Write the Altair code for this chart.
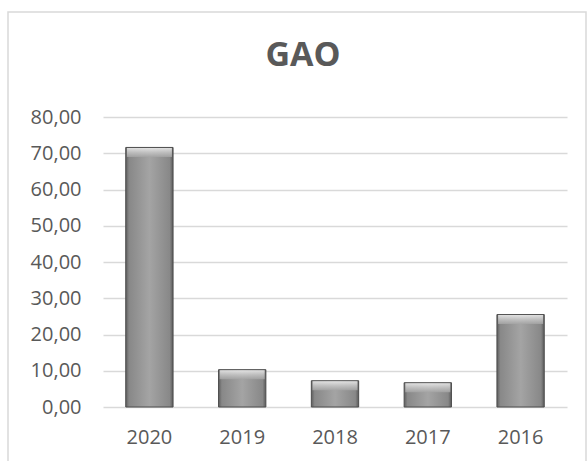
import altair as alt
import pandas as pd

years = ["2020", "2019", "2018", "2017", "2016"]
values = [71.6, 10.3, 7.25, 6.7, 25.5]
y_ticks = [0, 10, 20, 30, 40, 50, 60, 70, 80]

df = pd.DataFrame({"year": years, "value": values})

W, H = 464, 290
FONT = "Open Sans"
TXT = "#595959"

side = alt.Gradient(
    gradient="linear", x1=0, x2=1, y1=0, y2=0,
    stops=[
        alt.GradientStop(offset=0, color="#5e5e5e"),
        alt.GradientStop(offset=0.07, color="#888888"),
        alt.GradientStop(offset=0.5, color="#a4a4a4"),
        alt.GradientStop(offset=0.93, color="#888888"),
        alt.GradientStop(offset=1, color="#5a5a5a"),
    ],
)
top = alt.Gradient(
    gradient="linear", x1=0, x2=0, y1=0, y2=1,
    stops=[
        alt.GradientStop(offset=0, color="#eeeeee"),
        alt.GradientStop(offset=0.5, color="#c6c6c6"),
        alt.GradientStop(offset=1, color="#a4a4a4"),
    ],
)

x_enc = alt.X(
    "year:N", sort=years, title=None,
    scale=alt.Scale(paddingInner=0.49, paddingOuter=0.245),
    axis=alt.Axis(labelAngle=0, domain=False, ticks=False, tickSize=0,
                  labelPadding=20, labelFont=FONT, labelFontSize=20,
                  labelColor=TXT, grid=False),
)
y_enc = alt.Y(
    "value:Q", title=None,
    scale=alt.Scale(domain=[0, 80], nice=False, zero=True),
    axis=alt.Axis(values=y_ticks, domain=False, ticks=False, tickSize=0,
                  labelPadding=22, labelFont=FONT, labelFontSize=20,
                  labelColor=TXT, gridColor="#d9d9d9", gridWidth=1.5,
                  labelOverlap=False,
                  labelExpr="replace(format(datum.value, '.2f'), '.', ',')"),
)

base = alt.Chart(df).encode(x=x_enc, y=y_enc)
bars = base.mark_bar(fill=side, stroke="#4d4d4d", strokeWidth=1)
bevel = base.mark_tick(
    fill=top, thickness=9, yOffset=5, size=45, opacity=0.85, stroke=None
)

frame = alt.Chart(alt.Data(values=[{}])).mark_rect(
    fill=None, stroke="#d9d9d9", strokeWidth=1.5
).encode(
    x=alt.value(-95), x2=alt.value(483), y=alt.value(-105), y2=alt.value(H + 80)
)

chart = alt.layer(frame, bars, bevel).properties(
    width=W, height=H,
    autosize=alt.AutoSizeParams(type="none"),
    padding={"left": 103, "top": 117, "right": 20, "bottom": 54},
    title=alt.TitleParams(
        "GAO", font=FONT, fontSize=34, fontWeight="bold", color=TXT,
        anchor="middle", frame="group", dx=-32, offset=-89, baseline="alphabetic",
    ),
).configure_view(stroke=None)

chart.save("out.html", embed_options={"renderer": "svg", "actions": False})
